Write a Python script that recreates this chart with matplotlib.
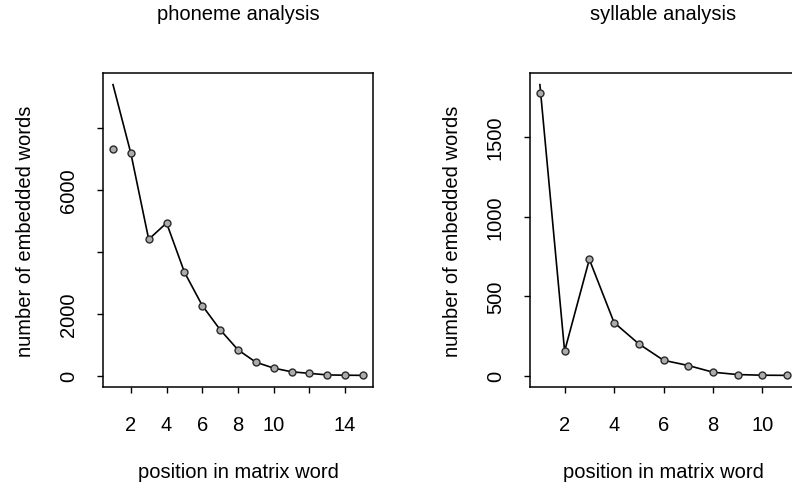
import matplotlib
matplotlib.use("Agg")
import matplotlib.pyplot as plt

# phoneme panel: the line starts from a different first value than the dot
phon_pos = list(range(1, 16))
phon_points = [7320, 7180, 4400, 4930, 3340, 2260, 1480, 830, 430, 240,
               120, 70, 20, 10, 5]
phon_line = [9400, 7180, 4400, 4930, 3340, 2260, 1480, 830, 430, 240,
             120, 70, 20, 10, 5]
phon_xticks = [2, 4, 6, 8, 10, 12, 14]
phon_xlabels = ["2", "4", "6", "8", "10", "", "14"]
phon_yticks = [0, 2000, 4000, 6000, 8000]
phon_ylabels = ["0", "2000", "", "6000", ""]

# syllable panel
syl_pos = list(range(1, 12))
syl_points = [1780, 155, 732, 335, 201, 98, 65, 23, 8, 4, 3]
syl_line = [1830, 155, 732, 335, 201, 98, 65, 23, 8, 4, 3]
syl_xticks = [2, 4, 6, 8, 10]
syl_xlabels = ["2", "4", "6", "8", "10"]
syl_yticks = [0, 500, 1000, 1500]
syl_ylabels = ["0", "500", "1000", "1500"]

FS = 14.5
plt.rcParams["font.family"] = ["Liberation Sans", "DejaVu Sans"]


def r_lim(values):
    lo, hi = min(values), max(values)
    pad = 0.04 * (hi - lo)
    return lo - pad, hi + pad


def panel(ax, pos, points, line, title, xticks, xlabels, yticks, ylabels):
    ax.plot(pos, line, color="black", lw=1.2, zorder=2)
    ax.plot(pos, points, ls="none", marker="o", ms=5,
            mfc="#ababab", mec="#2a2a2a", mew=1.0, zorder=3)
    ax.set_xlim(*r_lim(pos))
    ax.set_ylim(*r_lim(points + line))
    ax.set_xticks(xticks)
    ax.set_xticklabels(xlabels)
    ax.set_yticks(yticks)
    ax.set_yticklabels(ylabels, rotation=90, va="center")
    ax.tick_params(direction="out", length=4, width=1, labelsize=FS)
    ax.tick_params(axis="x", pad=16)
    ax.tick_params(axis="y", pad=14)
    for s in ax.spines.values():
        s.set_linewidth(1.1)
    ax.set_title(title, fontsize=FS, pad=39)
    ax.set_xlabel("position in matrix word", fontsize=FS, labelpad=20)
    ax.set_ylabel("number of embedded words", fontsize=FS, labelpad=17)


fig = plt.figure(figsize=(7.92, 4.89), dpi=100)
ax1 = fig.add_axes([103 / 792, 101 / 489, 270 / 792, 314 / 489])
ax2 = fig.add_axes([530 / 792, 101 / 489, 267 / 792, 314 / 489])

panel(ax1, phon_pos, phon_points, phon_line, "phoneme analysis",
      phon_xticks, phon_xlabels, phon_yticks, phon_ylabels)
panel(ax2, syl_pos, syl_points, syl_line, "syllable analysis",
      syl_xticks, syl_xlabels, syl_yticks, syl_ylabels)

fig.savefig("out.png", dpi=100)
